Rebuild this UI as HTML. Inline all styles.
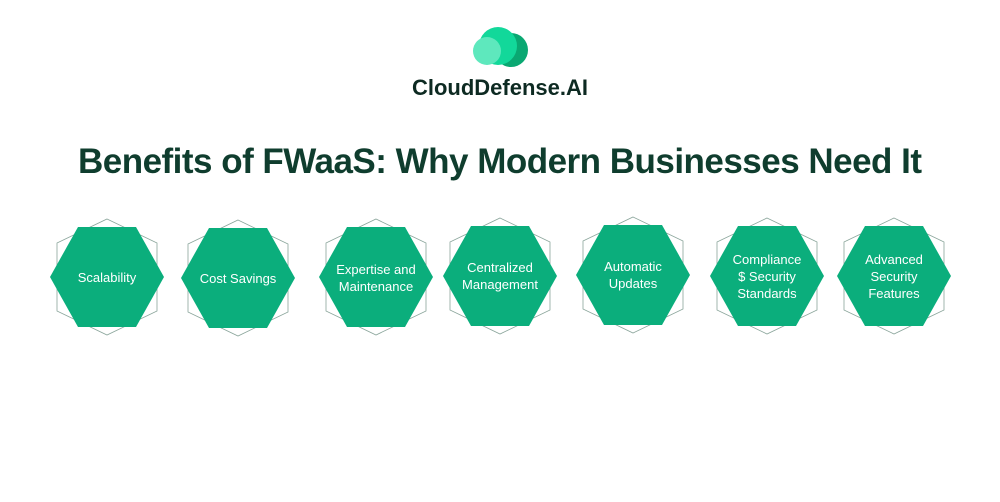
<!DOCTYPE html>
<html><head><meta charset="utf-8"><style>
body{margin:0;width:1000px;height:497px;background:#fff;overflow:hidden;font-family:"Liberation Sans",sans-serif}
</style></head><body>
<svg width="1000" height="497" viewBox="0 0 1000 497" xmlns="http://www.w3.org/2000/svg">
<circle cx="511" cy="50" r="17" fill="#0aa872"/>
<circle cx="498" cy="46" r="19" fill="#12d89a"/>
<circle cx="487" cy="51" r="14" fill="#5ee8bd"/>
<text x="500" y="95" text-anchor="middle" font-family="Liberation Sans" font-weight="bold" font-size="22" fill="#0d2a22" textLength="176">CloudDefense.AI</text>
<text x="500" y="173" text-anchor="middle" font-family="Liberation Sans" font-weight="bold" font-size="35" fill="#0f3d2e" textLength="844">Benefits of FWaaS: Why Modern Businesses Need It</text>
<defs>
<g id="h">
<polygon points="0,-58 50,-34 50,34 0,58 -50,34 -50,-34" fill="none" stroke="#8aa59b" stroke-width="0.8"/>
<polygon points="-57,0 -29,-50 29,-50 57,0 29,50 -29,50" fill="#0bae7c"/>
</g>
</defs>
<g font-family="Liberation Sans" font-size="13" fill="#fff" text-anchor="middle">
<use href="#h" x="107" y="277"/><text x="107" y="282">Scalability</text>
<use href="#h" x="238" y="278"/><text x="238" y="283">Cost Savings</text>
<use href="#h" x="376" y="277"/><text x="376" y="274">Expertise and</text><text x="376" y="291">Maintenance</text>
<use href="#h" x="500" y="276"/><text x="500" y="272">Centralized</text><text x="500" y="289">Management</text>
<use href="#h" x="633" y="275"/><text x="633" y="271">Automatic</text><text x="633" y="288">Updates</text>
<use href="#h" x="767" y="276"/><text x="767" y="264">Compliance</text><text x="767" y="281">$ Security</text><text x="767" y="298">Standards</text>
<use href="#h" x="894" y="276"/><text x="894" y="264">Advanced</text><text x="894" y="281">Security</text><text x="894" y="298">Features</text>
</g>
</svg>
</body></html>
